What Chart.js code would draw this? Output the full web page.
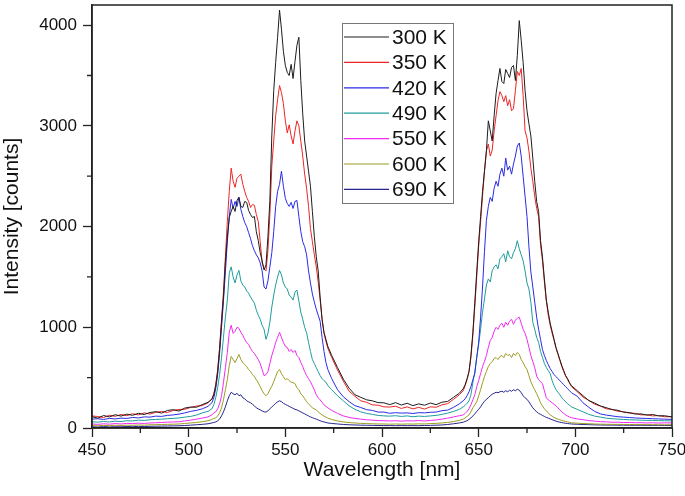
<!DOCTYPE html>
<html><head><meta charset="utf-8">
<script src="https://cdn.jsdelivr.net/npm/chart.js@4.4.0/dist/chart.umd.min.js"></script>
<style>html,body{margin:0;padding:0;background:#fff;}canvas{display:block;}</style>
</head><body>
<canvas id="c" width="685" height="496"></canvas>
<script>
const wavelength = [450,453,456,459,462,465,468,471,474,477,480,483,486,489,492,495,498,501,504,507,510,
512,513,514,515,516,517,518,519,520,521,522,523,524,525,526,527,528,529,530,531,532,533,534,535,536,537,538,539,540,541,542,543,544,545,546,547,548,549,550,551,552,553,554,555,556,557,558,559,560,561,562,563,564,565,566,567,568,569,570,571,572,
574,577,580,583,586,589,592,595,598,601,604,607,610,613,616,619,622,625,628,631,634,637,640,
642,643,644,645,646,647,648,649,650,651,652,653,654,655,656,657,658,659,660,661,662,663,664,665,666,667,668,669,670,671,672,673,674,675,676,677,678,679,680,681,682,683,684,685,686,687,688,689,690,691,692,693,694,695,696,697,698,
701,704,707,710,713,716,719,722,725,728,731,734,737,740,743,746,750];

const seriesLabels = ['300 K','350 K','420 K','490 K','550 K','600 K','690 K'];
const seriesColors = ['#1c1c1c','#ee2424','#2a2ae6','#1f9c9c','#f02af0','#9c9c22','#26268e'];

const s300 = [112,98,124,110,132,118,138,126,146,134,154,162,148,174,182,168,198,208,206,232,255,
285,330,420,560,780,1050,1300,1650,1900,2090,
2150,2200,2150,2260,2290,2200,2190,2250,2240,2160,
2120,2090,2100,1950,1860,1740,1660,1570,1620,1900,
2260,2900,3350,3630,3880,4150,3960,3740,3600,3530,
3500,3610,3470,3640,3800,3880,3450,3120,2850,2700,
2550,2400,2150,1900,1700,1560,1300,1080,950,880,
810,
720,600,485,395,330,305,280,270,252,250,232,252,228,246,222,240,226,248,232,256,264,305,345,
390,430,490,560,720,950,1250,1550,1850,2100,
2350,2550,2750,3050,2950,2850,3100,3320,3450,3570,
3440,3420,3560,3520,3480,3580,3600,3450,3700,4045,
3850,3630,3350,3150,3020,2900,2680,2450,2250,2150,
1860,1700,1480,1270,1150,1040,960,880,800,740,
680,620,570,520,490,450,420,
370,320,272,248,218,202,182,176,156,154,138,140,128,134,120,122,110];

const s350 = [120,114,104,126,116,134,122,142,130,150,138,156,164,154,174,184,186,204,218,222,250,
290,340,430,580,800,1080,1350,1700,2050,2350,
2580,2450,2390,2480,2500,2520,2420,2350,2290,2250,
2190,2220,2210,2120,2050,1850,1640,1580,1560,1760,
2120,2600,2850,3100,3260,3400,3330,3220,3050,2930,
3010,2900,2820,2950,3050,3000,2850,2700,2520,2380,
2200,1980,1850,1720,1600,1450,1270,1080,940,860,
790,
700,575,465,365,315,270,255,230,226,210,208,216,194,210,190,205,188,210,206,230,242,285,330,
370,420,480,560,700,920,1200,1500,1800,2050,
2300,2550,2750,2820,2700,2760,2950,3100,3250,3340,
3300,3240,3300,3200,3260,3150,3170,3350,3540,3500,
3570,3300,2950,2880,2750,2580,2450,2300,2180,2100,
1820,1660,1450,1260,1120,1020,940,870,790,730,
670,610,560,515,480,445,410,
360,306,274,236,218,190,186,166,162,146,146,130,132,120,124,112,112];

const s420 = [88,92,85,95,90,98,95,105,100,110,108,118,115,125,130,138,150,165,175,190,215,
250,300,390,530,740,1000,1260,1550,1850,2100,
2270,2180,2250,2200,2290,2170,2100,2040,2000,1940,
1880,1810,1760,1720,1690,1640,1560,1400,1380,1460,
1600,1740,1950,2200,2350,2420,2550,2400,2280,2230,
2200,2240,2180,2250,2260,2100,1950,1850,1800,1720,
1560,1440,1330,1250,1180,1120,1060,900,760,650,
580,
490,380,310,262,222,204,182,175,158,158,146,152,148,150,144,152,150,156,158,172,178,205,240,
270,290,320,360,410,480,540,700,850,1100,
1400,1750,2060,2200,2290,2250,2380,2450,2400,2520,
2580,2500,2680,2560,2600,2520,2620,2700,2800,2830,
2700,2500,2300,2100,1800,1550,1400,1250,1100,980,
880,780,720,670,630,590,560,530,510,490,
470,450,430,410,390,370,350,
315,250,205,165,140,128,120,112,108,104,100,97,95,92,90,88,85];

const s490 = [62,58,65,60,68,64,72,70,78,75,82,85,88,92,95,100,108,115,128,150,165,
190,230,300,400,530,700,900,1100,1270,1540,
1600,1500,1440,1520,1565,1460,1420,1400,1360,1340,
1300,1270,1240,1170,1120,1080,1020,980,880,940,
1050,1200,1320,1420,1500,1565,1520,1440,1400,1380,
1320,1300,1270,1350,1370,1260,1150,1080,1000,945,
850,760,680,640,600,560,520,490,470,455,
420,
380,320,270,220,185,160,145,135,125,120,118,122,115,120,112,118,115,120,125,135,148,165,185,
210,225,245,270,330,450,560,700,830,980,
1150,1280,1420,1480,1450,1560,1600,1620,1580,1680,
1700,1730,1650,1760,1700,1680,1740,1780,1860,1780,
1720,1660,1560,1440,1380,1250,1050,980,900,850,
760,700,640,600,570,540,470,420,380,355,
330,300,280,260,240,225,210,
185,160,135,118,108,98,92,88,85,82,80,78,76,75,73,72,70];

const s550 = [40,36,42,38,44,40,46,43,48,45,50,52,55,58,60,62,70,78,88,98,110,
130,150,160,190,240,320,450,600,750,950,
1020,940,960,1000,990,950,920,880,850,830,
790,760,740,710,680,640,580,520,530,560,
640,720,780,850,900,950,900,850,810,800,
760,780,750,770,720,700,650,610,560,520,
490,460,420,380,330,300,280,255,230,215,
200,
175,145,120,105,95,88,82,78,74,72,70,72,68,72,70,74,70,75,80,88,98,110,122,
130,145,165,190,230,280,330,410,470,540,
610,660,720,800,870,900,960,1000,980,1020,
1040,1000,1050,1020,1060,1080,1030,1070,1090,1100,
1040,980,940,880,800,720,660,600,515,480,
460,440,370,300,280,265,250,235,220,200,
180,160,145,130,118,110,102,
90,82,74,68,63,61,57,58,54,55,52,53,50,52,49,51,50];

const s600 = [24,22,26,23,27,25,28,26,30,28,32,33,35,36,38,40,45,50,55,62,72,
85,95,100,120,150,200,280,380,480,620,
710,680,650,690,730,680,650,630,610,580,
560,530,510,480,450,410,370,340,320,340,
380,415,460,510,560,580,540,510,480,490,
470,455,450,440,400,380,340,320,290,260,
240,220,200,190,180,160,145,130,118,108,
98,
85,70,60,54,50,46,44,42,40,40,38,40,38,40,39,41,40,44,46,50,56,64,76,
88,100,115,130,160,200,230,260,320,380,
450,510,560,610,640,660,690,700,680,710,
720,700,740,720,730,700,740,720,750,730,
680,650,610,580,520,460,415,380,340,300,
250,220,190,170,150,130,118,105,95,88,
82,75,70,65,60,56,52,
48,44,42,40,38,37,36,36,35,35,34,34,33,33,32,32,32];

const s690 = [12,10,14,11,13,12,15,13,16,14,17,18,19,20,21,22,25,28,32,36,42,
50,55,60,70,90,120,160,210,270,320,
355,340,330,345,320,330,300,290,270,260,
250,235,220,200,190,180,170,160,158,170,
190,210,225,245,260,270,262,245,235,225,
215,205,195,185,180,170,160,150,140,130,
120,110,102,95,88,80,72,65,60,55,
50,
45,40,35,32,30,28,27,26,25,24,24,23,24,23,24,23,25,26,28,30,35,42,50,
58,65,72,85,100,120,140,165,185,210,
240,265,285,300,320,335,345,355,350,360,
365,355,370,360,375,365,380,370,385,375,
350,320,300,285,260,230,200,180,160,145,
135,125,115,105,98,90,82,75,68,62,
58,54,50,47,44,42,40,
37,35,33,31,30,29,29,28,28,27,27,27,26,26,26,25,25];

const xMajorTicks = [450,500,550,600,650,700,750];
const xMinorTicks = [475,525,575,625,675,725];
const yMajorTicks = [0,1000,2000,3000,4000];
const yMinorTicks = [500,1500,2500,3500];

const allSeries = [s300,s350,s420,s490,s550,s600,s690];
const FONT = '"Liberation Sans", Arial, sans-serif';

const datasets = allSeries.map((s, k) => ({
  label: seriesLabels[k],
  data: wavelength.map((w, i) => ({x: w, y: s[i]})),
  borderColor: seriesColors[k],
  borderWidth: 1,
  pointRadius: 0,
  tension: 0,
  fill: false
}));

const framePlugin = {
  id: 'frame',
  afterDraw(chart) {
    const {ctx, chartArea: a, scales: {x, y}} = chart;
    ctx.save();
    ctx.strokeStyle = '#222';
    ctx.lineWidth = 1.5;
    ctx.strokeRect(a.left, a.top, a.right - a.left, a.bottom - a.top);
    ctx.lineWidth = 1.3;
    ctx.beginPath();
    xMinorTicks.forEach(v => { const px = x.getPixelForValue(v); ctx.moveTo(px, a.bottom); ctx.lineTo(px, a.bottom + 5); });
    yMinorTicks.forEach(v => { const py = y.getPixelForValue(v); ctx.moveTo(a.left, py); ctx.lineTo(a.left - 5, py); });
    ctx.stroke();
    // legend
    const lx = 342, ly = 23, lw = 111, lh = 180;
    ctx.fillStyle = '#fff';
    ctx.fillRect(lx, ly, lw, lh);
    ctx.strokeStyle = '#777';
    ctx.lineWidth = 1;
    ctx.strokeRect(lx + 0.5, ly + 0.5, lw, lh);
    ctx.font = '21px ' + FONT;
    ctx.textBaseline = 'middle';
    ctx.textAlign = 'left';
    chart.data.datasets.forEach((d, i) => {
      const cy = ly + 14 + i * 25.4;
      ctx.strokeStyle = d.borderColor;
      ctx.lineWidth = 1.2;
      ctx.beginPath();
      ctx.moveTo(lx + 2, cy);
      ctx.lineTo(lx + 47, cy);
      ctx.stroke();
      ctx.fillStyle = '#111';
      ctx.fillText(d.label, lx + 50, cy + 1);
    });
    ctx.restore();
  }
};

new Chart(document.getElementById('c'), {
  type: 'line',
  data: { datasets },
  options: {
    responsive: false,
    animation: false,
    devicePixelRatio: 1,
    layout: { padding: { left: 0, right: 13, top: 5, bottom: 0 } },
    plugins: { legend: { display: false }, tooltip: { enabled: false } },
    scales: {
      x: {
        type: 'linear', min: 450, max: 750,
        afterBuildTicks: (s) => { s.ticks = xMajorTicks.map(v => ({value: v})); },
        afterFit: (s) => { s.height = 68; s.paddingLeft = 0; s.paddingRight = 0; },
        ticks: { font: { family: FONT, size: 17 }, color: '#111', maxRotation: 0, autoSkip: false, padding: 3,
                 callback: (v) => String(v) },
        grid: { drawOnChartArea: false, drawTicks: true, tickLength: 9, tickWidth: 1.3, tickColor: '#222' },
        border: { display: true, color: '#222', width: 1.5 },
        title: { display: true, text: 'Wavelength [nm]', font: { family: FONT, size: 21 }, color: '#111', padding: { top: 0, bottom: 13 } }
      },
      y: {
        type: 'linear', min: 0, max: 4200,
        afterBuildTicks: (s) => { s.ticks = yMajorTicks.map(v => ({value: v})); },
        afterFit: (s) => { s.width = 92; s.paddingTop = 0; s.paddingBottom = 0; },
        ticks: { font: { family: FONT, size: 17 }, color: '#111', autoSkip: false, padding: 6,
                 callback: (v) => String(v) },
        grid: { drawOnChartArea: false, drawTicks: true, tickLength: 9, tickWidth: 1.3, tickColor: '#222' },
        border: { display: true, color: '#222', width: 1.5 },
        title: { display: true, text: 'Intensity [counts]', font: { family: FONT, size: 21 }, color: '#111', padding: { top: 0, bottom: 0 } }
      }
    }
  },
  plugins: [framePlugin]
});
</script>
</body></html>
